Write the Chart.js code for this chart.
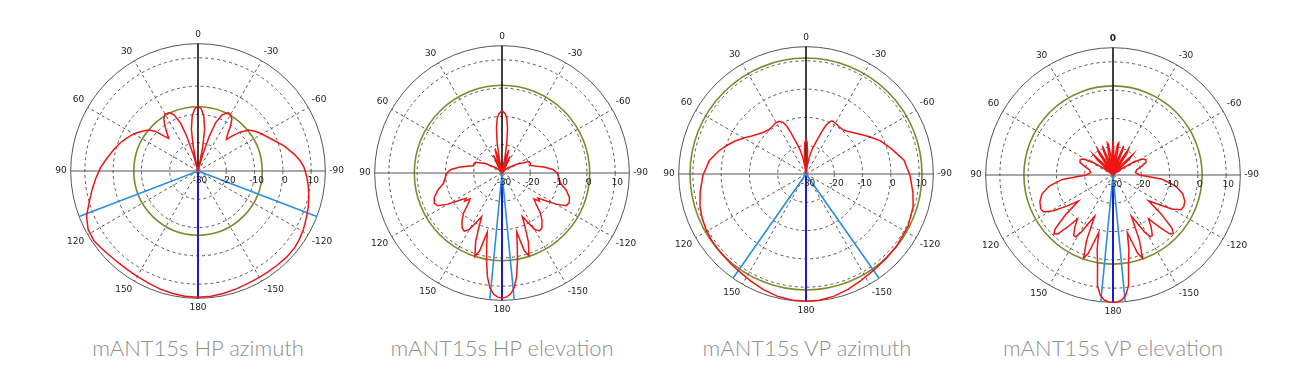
<!DOCTYPE html>
<html><head><meta charset="utf-8">
<script src="https://cdn.jsdelivr.net/npm/chart.js@4.4.1/dist/chart.umd.min.js"></script>
<style>
html,body{margin:0;padding:0;background:#fff;width:1315px;height:376px;overflow:hidden;}
.plot{position:absolute;width:292px;height:292px;}
.cap{position:absolute;top:334px;width:300px;line-height:28px;text-align:center;font-family:Lato,'Open Sans',sans-serif;font-weight:300;font-size:22px;color:#8e8e8e;white-space:nowrap;}
</style></head><body>
<div class="plot" style="left:54px;top:26px"><canvas id="c0" width="292" height="292"></canvas></div>
<div class="plot" style="left:358px;top:28px"><canvas id="c1" width="292" height="292"></canvas></div>
<div class="plot" style="left:662px;top:29px"><canvas id="c2" width="292" height="292"></canvas></div>
<div class="plot" style="left:969px;top:30px"><canvas id="c3" width="292" height="292"></canvas></div>
<div class="cap" id="t0" style="left:48px"></div>
<div class="cap" id="t1" style="left:352px"></div>
<div class="cap" id="t2" style="left:657px"></div>
<div class="cap" id="t3" style="left:963px"></div>
<script>
// ---- data ----
const titles = ['mANT15s HP azimuth','mANT15s HP elevation','mANT15s VP azimuth','mANT15s VP elevation'];
const angleLabels = ['0','-30','-60','-90','-120','-150','180','150','120','90','60','30']; // clockwise from top, every 30°
const ringValues = [-30,-20,-10,0,10,15];
const tickLabelValues = [-30,-20,-10,0,10];
const refLevels = [-7.3, 1.0, 11.0, 1.5];
const beamLight = [[111,-111],[174.5,-174.5],[145,-145],[174.5,-174.5]];
const beamMain = [180];

const hpAzAngles = [0,3,6,9,11,13,14,16,18,20,23,26,30,33,36,39,42,44,47,50,54,58,62,66,70,76,82,88,94,100,106,112,118,124,130,137,144,150,156,162,168,174,180,
 -174,-168,-162,-156,-150,-145,-140,-134,-128,-124,-119,-114,-108,-103,-98,-93,-88,-84,-80,-74,-67,-62,-58,-55,-51,-47,-44,-42,-39,-36,-33,-30,-27,-23,-20,-18,-16,-14,-13,-11,-9,-6,-3];
const hpAzGain = [-7,-8,-10.5,-15,-21,-28,-30,-24,-17,-12,-8.5,-7,-6.8,-7.8,-10,-12.5,-14.5,-13,-9.5,-7.5,-6,-4.5,-3.2,-2,-0.8,0.8,2.5,4.5,6.2,8,10,12.5,14,14.3,13.6,13,12.9,13,13.3,13.8,14.2,14.5,14.6,
 14.5,14.2,13.8,13.5,13.4,13.4,13.5,13.7,13.6,13.2,12.6,11.8,11,10.2,9.4,8.5,7.5,6.2,4.5,1.8,-1.5,-3.3,-4.5,-5.5,-7,-10,-13,-15,-13.5,-10.5,-8,-7,-6.8,-8.5,-12,-17,-24,-30,-28,-21,-15,-10.5,-8];

const hpElAngles = [0,3,5,7,9,10.5,12,14,16,18,20,23,26,29,32,40,48,55,60,64,68,72,76,79,82,86,90,95,100,105,110,114,117,120,123,125,127,129,132,136,140,144,147,150,153,155,157,159,162,164,166,168,170,172,174,176,178,180,
 -3,-5,-7,-9,-10.5,-12,-14,-16,-18,-20,-23,-26,-29,-32,-40,-48,-55,-60,-64,-67,-71,-75,-79,-82,-86,-90,-95,-100,-105,-110,-114,-117,-120,-123,-125,-127,-129,-132,-136,-140,-144,-147,-150,-153,-155,-157,-159,-162,-164,-166,-168,-170,-172,-174,-176,-178];
const hpElGain = [-7.9,-9,-10.5,-14,-19,-24,-30,-25,-21,-24,-30,-26,-23,-27,-30,-29,-27.5,-26,-23.5,-22,-19.8,-19.5,-19.5,-17.5,-15,-12,-10.5,-9.8,-9,-6.5,-4.5,-3.8,-4.5,-8,-12.5,-14.5,-13.5,-15.5,-14,-10.5,-8,-6,-5.5,-7,-11,-13,-9,-4,1,-1.5,-8.5,-4,1.5,7,10.9,12.9,13.9,14.2,
 -9,-10.5,-14,-19,-24,-30,-25,-21.5,-24,-30,-26,-23.5,-27,-30,-29,-27.5,-26,-23.5,-22,-19.6,-19.4,-19.6,-17.5,-15,-12,-10.5,-9.8,-9,-6.5,-4.6,-4,-4.6,-8,-12.5,-14.5,-13.5,-15.5,-14,-10.5,-8,-6,-5.6,-7,-11,-13,-9,-4,0.8,-1.5,-8.5,-4,1.5,7,10.9,12.9,13.9];

const vpAzAngles = [0,2,4,6,7.5,9,11,14,17,20,22,24,27,31,35,40,45,50,55,60,65,70,75,82,91,100,107,113,119,125,132,140,147,153,160,167,174,180,
 -2,-4,-6,-7.5,-9,-11,-14,-17,-20,-22,-24,-26,-30,-35,-40,-45,-50,-55,-60,-66,-73,-82,-91,-100,-107,-117,-128,-137,-145,-153,-160,-167,-174];
const vpAzGain = [-17.8,-18.8,-22,-27,-30,-27,-24,-21,-18.5,-14.5,-11.7,-10,-9.1,-9,-9.4,-9.6,-9,-8,-6.6,-4.6,-2.4,-0.3,1.8,4.5,6.5,8,9.2,9.9,10.4,10.8,11,11.4,11.9,12.6,13.6,14.4,14.9,15,
 -18.8,-22,-27,-30,-27,-24,-21,-18.5,-14.5,-11.7,-10,-9.1,-9.2,-9.6,-9.6,-8.8,-7.5,-5.8,-3.8,-1.2,1.3,5,6.8,8.4,9.6,10.5,10.9,11.2,11.6,12.4,13.4,14.3,14.9];

const vpElAngles = [0,2,3.5,6,8.5,10,11.5,13.5,17,20,21.5,24,28,31,33,36,40,44,46,49,54,58,62,65,69,73,78,84,90,95,100,105,110,115,118,121,124,127,130,133,135,137,139,141,144,147,149,151,154,156,158,160.5,162.5,164,166,168,170,172,174,176,178,180,
 -2,-3.5,-6,-8.5,-10,-11.5,-13.5,-17,-20,-21.5,-24,-28,-31,-33,-36,-40,-44,-46,-49,-54,-58,-62,-65,-69,-73,-78,-84,-90,-95,-100,-105,-110,-114,-117,-120,-123,-126,-129,-132,-134,-136,-138,-141,-144,-147,-149,-151,-154,-156,-158,-160.5,-162.5,-164,-166,-168,-170,-172,-174,-176,-178];
const vpElGain = [-18,-22,-30,-24,-19,-18.5,-22,-30,-24,-19,-21,-30,-24,-19.5,-21,-30,-25,-20,-22,-30,-26,-21,-18,-17.2,-17.5,-19.5,-21.5,-22,-20.5,-12,-7,-4,-2.5,-1.8,-2.2,-5.5,-10.5,-14.7,-8,-2,-0.5,-1.5,-6,-10,-7,-4.5,-4.5,-7,-12,-14,-5,1.2,-1,-5,-9,-3,1.5,9.5,12.8,14.3,14.9,15,
 -22,-30,-24,-19,-18.5,-22,-30,-24,-19,-21,-30,-24,-19.5,-21,-30,-25,-20,-22,-30,-26,-21,-18,-17.2,-17.5,-19.5,-21.5,-22,-20.5,-12.5,-7.5,-4.5,-3,-2.6,-3,-6,-11,-14.5,-8,-2,-0.3,-1,-5,-10,-7,-4.5,-4.5,-7,-12,-14,-5,1.2,-1,-5,-9,-3,1.5,9.5,12.8,14.3,14.9];

const series = [[hpAzAngles,hpAzGain],[hpElAngles,hpElGain],[vpAzAngles,vpAzGain],[vpElAngles,vpElGain]];

// ---- build ----
const N = 720; // 0.5 degree label grid, clockwise from top
const R_MIN = -30, R_MAX = 15;
function toIndex(a){ return ((Math.round(-a*2) % N) + N) % N; }
function curveData(angles, gains){
  if (angles.length !== gains.length) throw new Error('length mismatch '+angles.length+' '+gains.length);
  const d = new Array(N).fill(null);
  angles.forEach((a,k)=>{ d[toIndex(a)] = gains[k]; });
  return d;
}
function beamData(angles){
  const d = new Array(N).fill(null);
  const idx = angles.map(toIndex).sort((a,b)=>a-b);
  idx.forEach((i,k)=>{
    d[i] = R_MAX;
    const next = k+1 < idx.length ? idx[k+1] : idx[0] + N;
    d[Math.round((i+next)/2) % N] = R_MIN;
  });
  return d;
}
const labels = Array.from({length:N}, (_,i)=> (i % 60 === 0) ? angleLabels[i/60] : '');

const ringLabelPlugin = {
  id:'ringLabels',
  afterDatasetsDraw(chart){
    const s = chart.scales.r, ctx = chart.ctx;
    ctx.save();
    ctx.font = '9px "DejaVu Sans"';
    ctx.fillStyle = '#222';
    ctx.textAlign = 'center';
    ctx.textBaseline = 'top';
    tickLabelValues.forEach(v=>{
      ctx.fillText(String(v), s.xCenter + s.getDistanceFromCenterForValue(v) + 2, s.yCenter + 5);
    });
    ctx.restore();
  }
};

series.forEach((ser, c)=>{
  document.getElementById('t'+c).textContent = titles[c];
  const ref = refLevels[c];
  new Chart(document.getElementById('c'+c), {
    type:'radar',
    data:{ labels, datasets:[
      {label:'pattern', data:curveData(ser[0], ser[1]), borderColor:'#ee1515', borderWidth:1.5, spanGaps:true, fill:false, pointRadius:0, tension:0},
      {label:'beamwidth', data:beamData(beamLight[c]), borderColor:'#2b8de4', borderWidth:1.6, spanGaps:true, fill:false, pointRadius:0, tension:0},
      {label:'boresight', data:beamData(beamMain), borderColor:'#1a1ad0', borderWidth:2, spanGaps:true, fill:false, pointRadius:0, tension:0}
    ]},
    options:{
      responsive:false, animation:false, devicePixelRatio:1,
      layout:{padding:0},
      plugins:{legend:{display:false}, tooltip:{enabled:false}},
      elements:{point:{radius:0, hoverRadius:0, hitRadius:0}, line:{tension:0}},
      scales:{ r:{
        min:R_MIN, max:R_MAX, startAngle:0,
        afterBuildTicks: s => { s.ticks = ringValues.concat([ref]).sort((a,b)=>a-b).map(v=>({value:v})); },
        ticks:{display:false},
        grid:{ circular:true,
          color: x => x.tick.value === ref ? '#7c8a2c' : '#555',
          lineWidth: x => x.tick.value === ref ? 1.6 : 1 },
        border:{ dash: x => (x.tick.value === ref || x.tick.value === R_MAX) ? [] : [3,3] },
        angleLines:{
          color: x => (x.index === 0 || x.index === 360) ? '#000' : '#555',
          lineWidth: x => x.index % 60 !== 0 ? 0 : (x.index % 360 === 0 ? 1.5 : 1),
          borderDash: x => x.index % 180 === 0 ? [] : [3,3] },
        pointLabels:{ color:'#222', padding:4,
          font: x => ({family:'DejaVu Sans', size:9, weight: (c === 3 && x.index === 0) ? 'bold' : 'normal'}) }
      }}
    },
    plugins:[ringLabelPlugin]
  });
});
</script>
</body></html>
